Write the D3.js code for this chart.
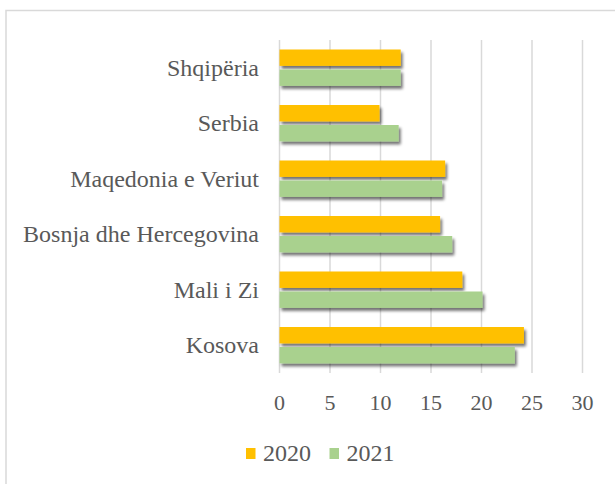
<!DOCTYPE html>
<html><head><meta charset="utf-8">
<script src="https://cdn.jsdelivr.net/npm/d3@7"></script>
<style>html,body{margin:0;padding:0;background:#fff;}svg{display:block;}
svg text{font-family:"Liberation Serif","Times New Roman",Tinos,"DejaVu Serif",serif;}</style>
</head><body>
<svg id="c" width="615" height="484"></svg>
<script>
const categories = ["Shqipëria", "Serbia", "Maqedonia e Veriut", "Bosnja dhe Hercegovina", "Mali i Zi", "Kosova"];
const seriesNames = ["2020", "2021"];
const values2020 = [12.0, 9.9, 16.4, 15.9, 18.1, 24.2];
const values2021 = [12.0, 11.8, 16.1, 17.1, 20.1, 23.3];
const xTicks = [0, 5, 10, 15, 20, 25, 30];
const colors = ["#FFC000", "#A9D18E"];

const svg = d3.select("#c");
const textColor = "#595959";

// outer border
svg.append("rect").attr("x", 6).attr("y", 10.5).attr("width", 700).attr("height", 600)
  .attr("fill", "none").attr("stroke", "#d9d9d9").attr("stroke-width", 1.5);

const defs = svg.append("defs");
const f = defs.append("filter").attr("id", "sh").attr("x", "-10%").attr("y", "-50%").attr("width", "130%").attr("height", "250%");
f.append("feGaussianBlur").attr("in", "SourceAlpha").attr("stdDeviation", 1.6).attr("result", "b");
f.append("feOffset").attr("in", "b").attr("dx", 2).attr("dy", 3).attr("result", "o");
f.append("feComponentTransfer").attr("in", "o").attr("result", "o2")
  .append("feFuncA").attr("type", "linear").attr("slope", 0.55);
const fm = f.append("feMerge");
fm.append("feMergeNode").attr("in", "o2");
fm.append("feMergeNode").attr("in", "SourceGraphic");

const x = d3.scaleLinear().domain([0, 30]).range([279.5, 582.5]);
const y = d3.scaleBand().domain(categories).range([40, 373]);
const ys = d3.scaleBand().domain(seriesNames).range([9.5, 45.9]).paddingInner(0.18);

// gridlines
svg.append("g").selectAll("line").data(xTicks).join("line")
  .attr("x1", d => x(d)).attr("x2", d => x(d))
  .attr("y1", 40).attr("y2", 373)
  .attr("stroke", "#d9d9d9").attr("stroke-width", 1.5);

// bars
const data = categories.map((c, i) => ({c, v: [values2020[i], values2021[i]]}));
const g = svg.append("g").attr("filter", "url(#sh)");
data.forEach(d => {
  seriesNames.forEach((s, j) => {
    g.append("rect")
      .attr("x", x(0))
      .attr("y", y(d.c) + ys(s))
      .attr("width", x(d.v[j]) - x(0))
      .attr("height", ys.bandwidth())
      .attr("fill", colors[j]);
  });
});

// category labels
svg.append("g").selectAll("text").data(categories).join("text")
  .attr("x", 259).attr("y", d => y(d) + y.bandwidth() / 2)
  .attr("dy", "0.33em")
  .attr("text-anchor", "end")
  .attr("font-size", 24).attr("fill", textColor)
  .text(d => d);

// x axis tick labels
svg.append("g").selectAll("text").data(xTicks).join("text")
  .attr("x", d => x(d)).attr("y", 403).attr("dy", "0.33em")
  .attr("text-anchor", "middle")
  .attr("font-size", 22).attr("fill", textColor)
  .text(d => d);

// legend
const legX = [246, 329.5];
seriesNames.forEach((s, j) => {
  svg.append("rect").attr("x", legX[j]).attr("y", 448).attr("width", 9.5).attr("height", 11).attr("fill", colors[j]);
  svg.append("text").attr("x", legX[j] + 17).attr("y", 461)
    .attr("font-size", 24).attr("fill", textColor).text(s);
});
</script>
</body></html>
